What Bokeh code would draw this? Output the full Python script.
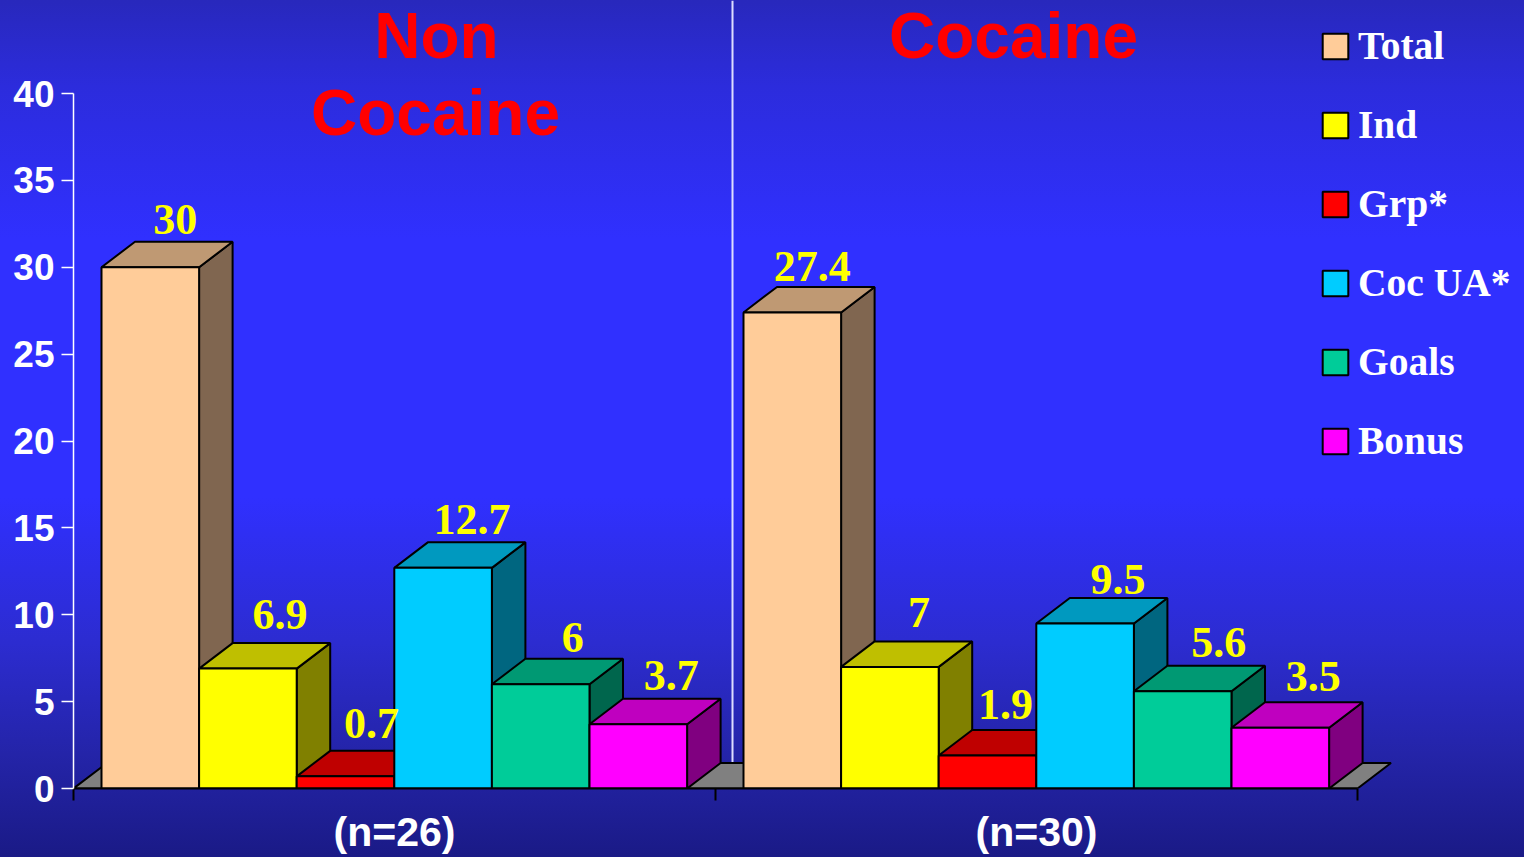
from bokeh.plotting import figure
from bokeh.embed import file_html
from bokeh.resources import INLINE
from bokeh.models import FixedTicker, Legend, LegendItem, Range1d
from bokeh.core.properties import value

GROUPS = ["(n=26)", "(n=30)"]
SERIES = ["Total", "Ind", "Grp*", "Coc UA*", "Goals", "Bonus"]
TOTAL = [30, 27.4]
IND = [6.9, 7]
GRP = [0.7, 1.9]
COC_UA = [12.7, 9.5]
GOALS = [6, 5.6]
BONUS = [3.7, 3.5]
VALUES = [TOTAL, IND, GRP, COC_UA, GOALS, BONUS]
LABELS = [["30", "27.4"], ["6.9", "7"], ["0.7", "1.9"], ["12.7", "9.5"], ["6", "5.6"], ["3.7", "3.5"]]
Y_TICKS = [0, 5, 10, 15, 20, 25, 30, 35, 40]

# style and layout
FRONT = ["#FFCC99", "#FFFF00", "#FF0000", "#00CCFF", "#00CC99", "#FF00FF"]
TOP = ["#BF9973", "#BFBF00", "#BF0000", "#0099BF", "#009973", "#BF00BF"]
SIDE = ["#806650", "#808000", "#800000", "#006680", "#00664D", "#800080"]
W, H = 1524, 857
L, B = 73, 69
PX_X = 642.0      # pixels per group
PX_Y = 17.375     # pixels per unit
PAD = 28 / PX_X
BAR = 97.6 / PX_X
DX = 33.5 / PX_X
DY = 25.5 / PX_Y
LABEL_DX = [[25, 20], [32, 29], [26, 18], [29, 33], [32, 36], [33, 33]]
LABEL_DY = [[31, 30], [38, 38], [37, 35], [32, 28], [30, 32], [32, 35]]
BASE_SHIFT = 0.37  # of the font size: lift of the text baseline
LW = 2
SERIF = "Liberation Serif"
SANS = "Liberation Sans"

p = figure(width=W, height=H, output_backend="svg", toolbar_location=None,
           x_range=Range1d(0, (W - L) / PX_X), y_range=Range1d(0, (H - B) / PX_Y),
           min_border_left=L, min_border_bottom=B, min_border_top=0, min_border_right=0,
           border_fill_color=None, background_fill_color=None, outline_line_color=None)
p.styles = {"position": "absolute", "left": "0", "top": "0",
            "background": "linear-gradient(180deg,#2828bc 0%,#2c2cdc 10%,#3030ff 28%,#3030ff 58%,"
                          "#2c2cd0 75%,#2424a8 88%,#1a1a86 100%)"}
p.grid.visible = False

ax = p.xaxis[0]
ax.ticker = FixedTicker(ticks=[0.5, 1.5], minor_ticks=[0, 1, 2])
ax.major_label_overrides = {0.5: GROUPS[0], 1.5: GROUPS[1]}
ax.major_tick_line_color = None
ax.minor_tick_out = 12
ax.minor_tick_in = 0
ax.minor_tick_line_color = "#000000"
ax.minor_tick_line_width = 2
ax.axis_line_color = "#000000"
ax.axis_line_width = 2
ax.bounds = (0, 2)
ax.major_label_standoff = 8
ax.major_label_text_font = SANS
ax.major_label_text_font_style = "bold"
ax.major_label_text_font_size = "41px"
ax.major_label_text_color = "#FFFFFF"

ay = p.yaxis[0]
ay.ticker = FixedTicker(ticks=Y_TICKS)
ay.minor_tick_line_color = None
ay.bounds = (0, 40)
ay.axis_line_color = "#FFFFFF"
ay.axis_line_width = 1.5
ay.major_tick_line_color = "#FFFFFF"
ay.major_tick_line_width = 1.5
ay.major_tick_out = 12
ay.major_tick_in = 0
ay.major_label_standoff = 7
ay.major_label_text_font = SANS
ay.major_label_text_font_style = "bold"
ay.major_label_text_font_size = "37px"
ay.major_label_text_color = "#FFFFFF"

# divider and floor
p.segment(x0=[(732 - L) / PX_X], x1=[(732 - L) / PX_X], y0=[DY], y1=[(H - B) / PX_Y],
          line_color="#DDDDFF", line_width=2)
p.patch(x=[0, DX, 2 + DX, 2], y=[0, DY, DY, 0], fill_color="#808080", line_color="#000000", line_width=LW)

# bars, left to right
legend_items = []
for i, name in enumerate(SERIES):
    vals = VALUES[i]
    left = [g + PAD + i * BAR for g in range(2)]
    right = [x + BAR for x in left]
    p.patches(xs=[[r, r + DX, r + DX, r] for r in right],
              ys=[[0, DY, v + DY, v] for v in vals],
              fill_color=SIDE[i], line_color="#000000", line_width=LW)
    p.patches(xs=[[l, l + DX, r + DX, r] for l, r in zip(left, right)],
              ys=[[v, v + DY, v + DY, v] for v in vals],
              fill_color=TOP[i], line_color="#000000", line_width=LW)
    front = p.quad(left=left, right=right, bottom=[0, 0], top=vals,
                   fill_color=FRONT[i], line_color="#000000", line_width=LW)
    legend_items.append(LegendItem(label=name, renderers=[front]))

# value labels
for i in range(len(SERIES)):
    centres = [g + PAD + i * BAR + BAR / 2 for g in range(2)]
    p.text(x=centres, y=VALUES[i], text=LABELS[i],
           x_offset=LABEL_DX[i], y_offset=[-d - 44 * BASE_SHIFT for d in LABEL_DY[i]],
           text_align="center", text_baseline="alphabetic",
           text_color="#FFFF00", text_font=value(SERIF), text_font_style="bold", text_font_size="44px")

# panel titles
p.text(x=[(436 - L) / PX_X, (435 - L) / PX_X, (1013 - L) / PX_X],
       y=[(788 - 59) / PX_Y, (788 - 136) / PX_Y, (788 - 59) / PX_Y],
       text=["Non", "Cocaine", "Cocaine"], text_align="center", text_baseline="alphabetic",
       y_offset=-64 * BASE_SHIFT,
       text_color="#FF0000", text_font=value(SANS), text_font_style="bold", text_font_size="64px")

legend = Legend(items=legend_items, location=(1246, 324), orientation="vertical",
                glyph_width=32, glyph_height=32, label_standoff=7, spacing=33, padding=0, margin=0,
                background_fill_alpha=0, border_line_color=None,
                label_text_font=SERIF, label_text_font_style="bold", label_text_font_size="39.5px",
                label_text_color="#FFFFFF")
p.add_layout(legend, "center")

open("out.html", "w").write(file_html(p, INLINE))
